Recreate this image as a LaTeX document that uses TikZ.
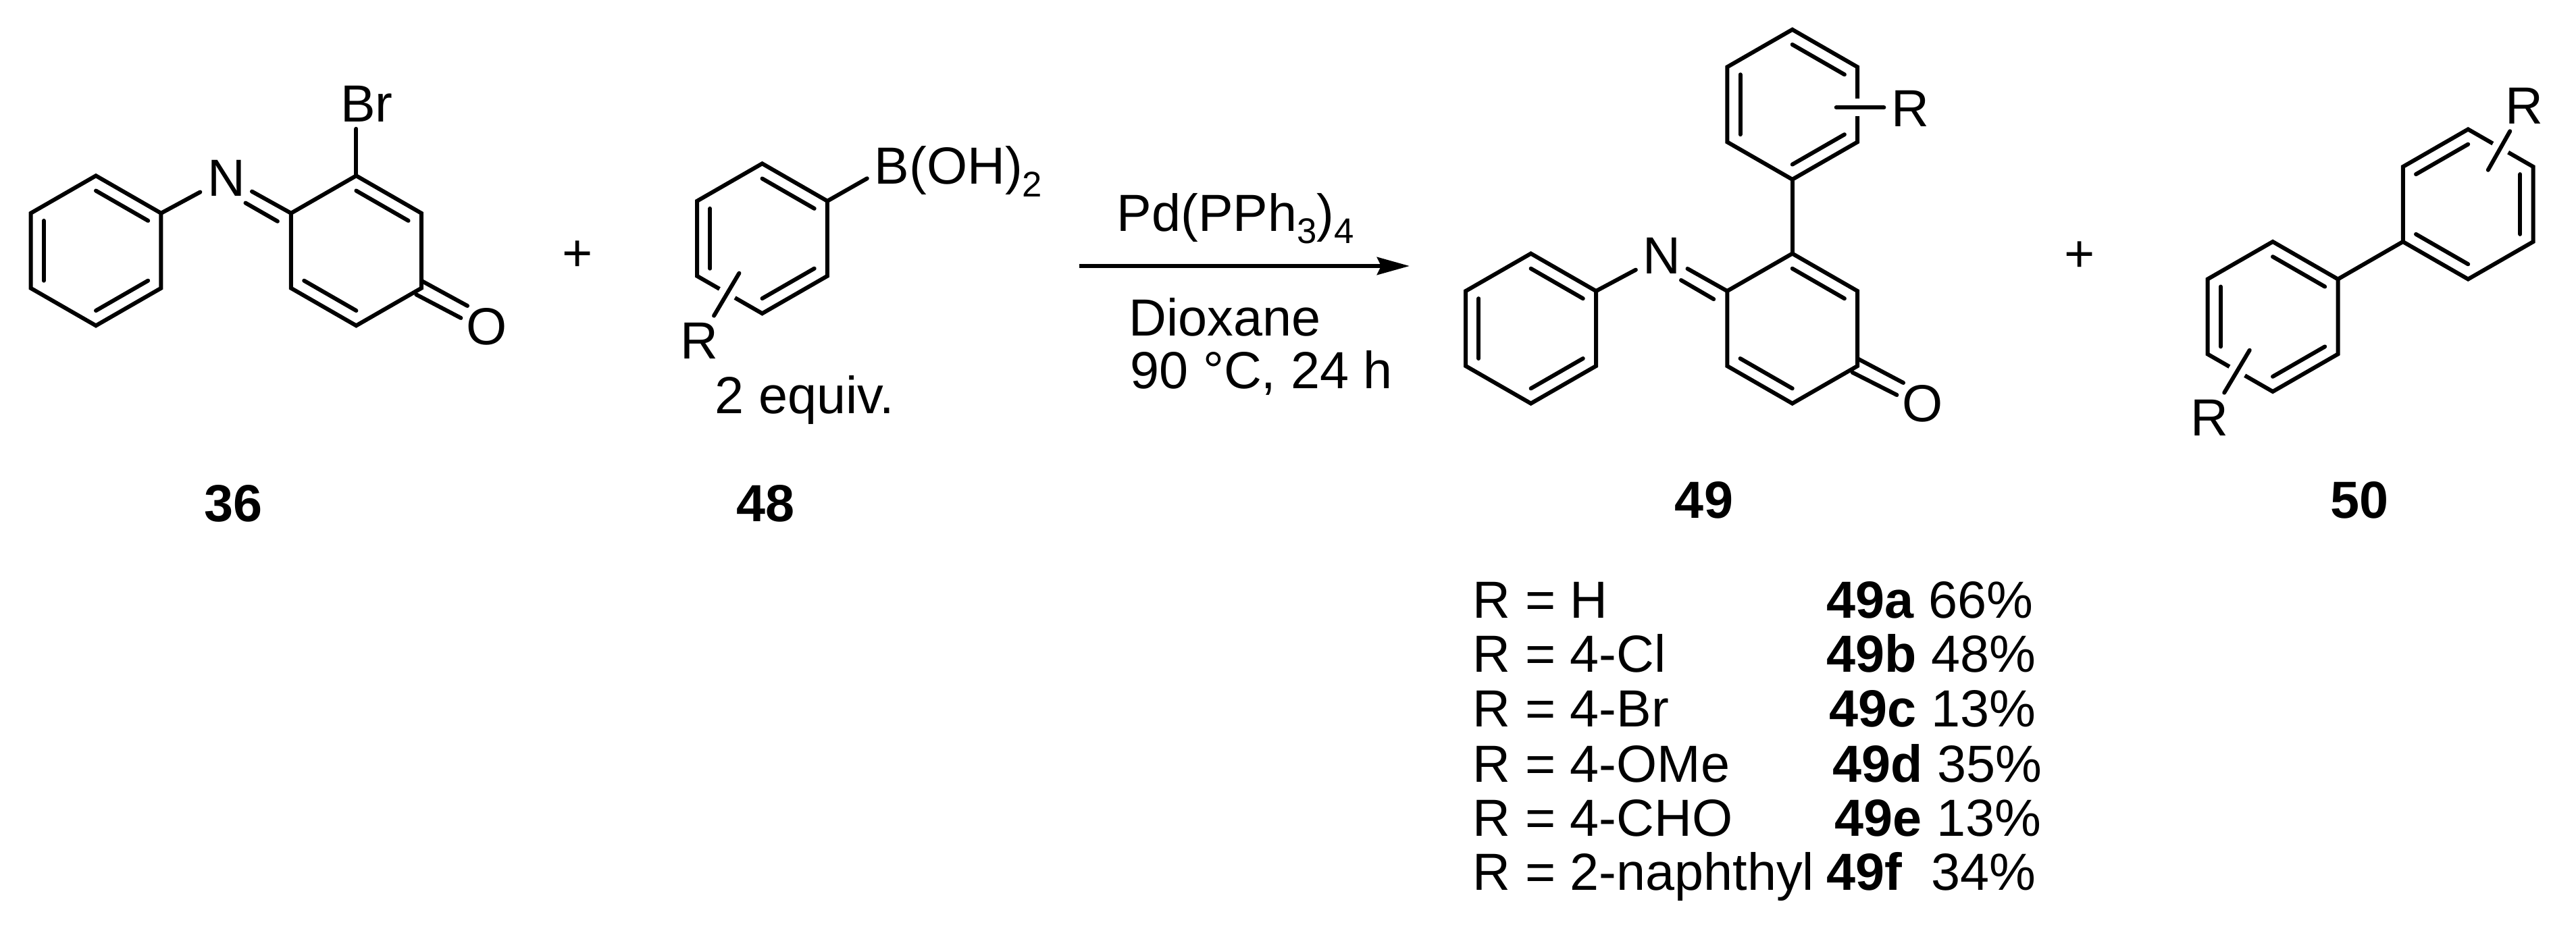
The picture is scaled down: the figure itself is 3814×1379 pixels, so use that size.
\documentclass[tikz,border=0pt]{standalone}
\usepackage{fontspec}
\setmainfont{Liberation Sans}
\usetikzlibrary{calc,arrows.meta}
\newcommand{\txtsize}{\fontsize{22}{26}\selectfont}
\newcommand{\low}[1]{\raisebox{-.24em}{\fontsize{15}{17}\selectfont #1}}
% ring corners: 1 top, then clockwise; 0 centre
\newcommand{\hexring}[3]{
\coordinate (#10) at (#2,#3);
\foreach \i/\a in {1/90,2/30,3/-30,4/-90,5/-150,6/150}
\coordinate (#1\i) at ({#2+111.4*cos(\a)},{#3-111*sin(\a)});
\draw[bond] (#11)--(#12)--(#13)--(#14)--(#15)--(#16)--cycle;
}
\newcommand{\dbl}[3]{\draw[bond] ($(#1#2)!.2!(#10)$)--($(#1#3)!.2!(#10)$);}
\tikzset{
bond/.style={line width=.06cm,line cap=round},
subst/.style={bond,preaction={draw=white,line width=.26cm,line cap=butt}},
atom/.style={font=\txtsize,inner sep=.1cm},
txt/.style={font=\txtsize,inner sep=0,anchor=base west},
num/.style={font=\txtsize\bfseries,inner sep=0},
}
\begin{document}
\begin{tikzpicture}[x=.01cm,y=-.01cm]
\useasboundingbox (0,0) rectangle (3814,1379);
% 36
\hexring{pa}{142}{371.3}
\hexring{qa}{527.4}{371.3}
\dbl{pa}{1}{2} \dbl{pa}{3}{4} \dbl{pa}{5}{6}
\dbl{qa}{1}{2} \dbl{qa}{4}{5}
\node[atom] (Na) at (335,263.6) {N};
\node[atom] (Bra) at (543,153.5) {Br};
\node[atom] (Oa) at (721,484) {O};
\draw[bond] (pa2)--(Na);
\draw[bond] ($(Na)+(38,20)$)--(qa6);
\draw[bond] ($(Na)+(28.5,37)$)--($(qa6)+(-20,12)$);
\draw[bond] (qa1)--(qa1 |- Bra.south);
\draw[bond] ($(qa3)+(0,-11)$)--($(Oa)+(-29,-31)$);
\draw[bond] ($(qa3)+(-7.6,9.5)$)--($(Oa)+(-38.6,-13)$);
\node[atom,inner sep=0] (pl1) at (854.6,379) {+};
\node[num] (n36) at (346,746) {36};
% 48
\hexring{rb}{1128.5}{353.3}
\dbl{rb}{1}{2} \dbl{rb}{3}{4} \dbl{rb}{5}{6}
\node[atom] (Rb) at (1035,505) {R};
\coordinate (sb) at (1094.4,404.6);
\draw[subst] (sb)--(Rb);
\node[txt] (boh) at (1294,273) {B(OH)\low{2}};
\coordinate (bb) at (1283.8,264.3);
\draw[bond] (rb2)--(bb);
\node[txt] (eq) at (1058,612) {2 equiv.};
\node[num] (n48) at (1134,746) {48};
% arrow
\coordinate (arrL) at (1598,394);
\coordinate (arrR) at (2087,394);
\draw[line width=.06cm,-{Stealth[length=.48cm,width=.26cm,inset=.06cm]}] (arrL)--(arrR);
\node[txt] (cat) at (1653,342) {Pd(PPh\low{3})\low{4}};
\node[txt] (solv) at (1671,497.4) {Dioxane};
\node[txt] (cond) at (1673,575) {90 °C, 24 h};
% 49
\hexring{ac}{2653.7}{154.8}
\hexring{pc}{2266.6}{486.6}
\hexring{qc}{2653.7}{486.6}
\dbl{ac}{1}{2} \dbl{ac}{3}{4} \dbl{ac}{5}{6}
\dbl{pc}{1}{2} \dbl{pc}{3}{4} \dbl{pc}{5}{6}
\dbl{qc}{1}{2} \dbl{qc}{4}{5}
\draw[bond] (ac4)--(qc1);
\node[atom] (Nc) at (2460.5,379) {N};
\node[atom] (Oc) at (2847,598) {O};
\node[atom] (Rc) at (2828,161) {R};
\coordinate (sc) at (2718.7,159.2);
\draw[subst] (sc)--(sc -| Rc.west);
\draw[bond] (pc2)--(Nc);
\draw[bond] ($(Nc)+(38,19)$)--(qc6);
\draw[bond] ($(Nc)+(28.5,36)$)--($(qc6)+(-20,12)$);
\draw[bond] ($(qc3)+(0,-11)$)--($(Oc)+(-29,-31)$);
\draw[bond] ($(qc3)+(-7.6,9.5)$)--($(Oc)+(-38.6,-13)$);
\node[num] (n49) at (2523,741) {49};
\node[atom,inner sep=0] (pl2) at (3079.4,380) {+};
% 50
\hexring{pd}{3365}{469}
\hexring{qd}{3654.2}{302.5}
\dbl{pd}{1}{2} \dbl{pd}{3}{4} \dbl{pd}{5}{6}
\dbl{qd}{6}{1} \dbl{qd}{2}{3} \dbl{qd}{4}{5}
\draw[bond] (pd2)--(qd5);
\node[atom] (Rd) at (3271,619) {R};
\node[atom] (Re) at (3737.3,157) {R};
\coordinate (sd) at (3330.7,518.7);
\coordinate (se) at (3683.8,251.8);
\draw[subst] (sd)--(Rd);
\draw[subst] (se)--(Re);
\node[num] (n50) at (3493.3,741) {50};
% table
\foreach \n/\yy/\rr/\xx/\yld in {a/915/H/2704/66,b/995.6/4-Cl/2704/48,c/1076.8/4-Br/2708/13,d/1158/4-OMe/2713/35,e/1238/4-CHO/2716/13,f/1318.4/2-naphthyl/2704/{\ 34}}{
\node[txt] (row\n) at (2180,\yy) {R = \rr};
\node[txt] (yld\n) at (\xx,\yy) {\textbf{49\n} \yld\%};
}
\end{tikzpicture}
\end{document}
